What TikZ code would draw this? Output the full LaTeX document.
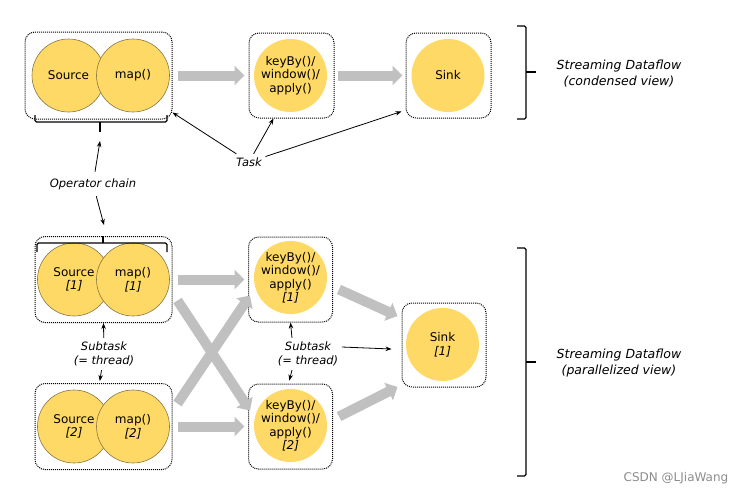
\documentclass[tikz,border=0pt]{standalone}
\usepackage{fontspec}
\setmainfont{DejaVu Sans}
\usetikzlibrary{arrows.meta}

\definecolor{opyellow}{HTML}{FFD966}
\definecolor{opedge}{HTML}{857545}
\definecolor{flowgray}{HTML}{C0C0C0}

\tikzset{
  taskbox/.style={rectangle,rounded corners=10pt,draw=black,line width=1pt,dash pattern=on 1pt off 1pt},
  op/.style={circle,fill=opyellow,minimum size=73pt,inner sep=-3pt,align=center},
  chained/.style={op,draw=opedge,line width=0.6pt},
  flow/.style={draw=flowgray,line width=10pt,-{Triangle[length=10pt,width=19pt]}},
  note/.style={font=\fontsize{11.5}{14.5}\selectfont\itshape,align=center},
  viewnote/.style={note,font=\fontsize{12.5}{16}\selectfont\itshape},
  brace/.style={line width=1.2pt,rounded corners=1.5pt}
}

\begin{document}
\begin{tikzpicture}[x=1pt,y=-1pt,thick,>={Stealth[length=6pt,width=4.5pt]},font=\fontsize{12}{13.5}\selectfont]
        \useasboundingbox (0,0) rectangle (746,496);
        % condensed view
        \node at (98.5,75.5)[taskbox,minimum width=147pt,minimum height=87pt] (chain) {};
        \node at (291.5,75.5)[taskbox,minimum width=85pt,minimum height=85pt] (winbox) {};
        \node at (448.5,75.5)[taskbox,minimum width=85pt,minimum height=85pt] (sinkbox) {};
        \node at (68.5,75.5)[chained] (src) {Source};
        \node at (133,75.5)[chained] (map) {map()};
        \node at (290.5,75.5)[op] (win) {keyBy()/\\window()/\\apply()};
        \node at (448,75.5)[op] (sink) {Sink};
        \draw [flow] ([xshift=5]chain.east) -- ([xshift=-4]winbox.west);
        \draw [flow] ([xshift=3]winbox.east) -- ([xshift=-3]sinkbox.west);
        % parallelized view
        \node at (103.5,279.5)[taskbox,minimum width=137pt,minimum height=86pt] (chain1) {};
        \node at (103.5,426.5)[taskbox,minimum width=137pt,minimum height=86pt] (chain2) {};
        \node at (290.5,279.5)[taskbox,minimum width=84pt,minimum height=85pt] (winbox1) {};
        \node at (290.5,426.5)[taskbox,minimum width=84pt,minimum height=85pt] (winbox2) {};
        \node at (444,345)[taskbox,minimum width=84pt,minimum height=84pt] (sinkbox1) {};
        \node at (74,279.5)[chained] (src1) {Source\\\textit{[1]}};
        \node at (133,279.5)[chained] (map1) {map()\\\textit{[1]}};
        \node at (74,426.5)[chained] (src2) {Source\\\textit{[2]}};
        \node at (133,426.5)[chained] (map2) {map()\\\textit{[2]}};
        \node at (290.5,277.5)[op] (win1) {keyBy()/\\window()/\\apply()\\\textit{[1]}};
        \node at (290.5,425.5)[op] (win2) {keyBy()/\\window()/\\apply()\\\textit{[2]}};
        \node at (442.5,344.5)[op] (sink1) {Sink\\\textit{[1]}};
        \draw [flow] ([xshift=5]chain1.east) -- ([xshift=-3.5]winbox1.west);
        \draw [flow] ([xshift=5]chain2.east) -- ([xshift=-3.5]winbox2.west);
        \draw [flow] ([xshift=5,yshift=-21]chain1.east) -- ([xshift=2,yshift=-27]winbox2.west |- winbox2.north);
        \draw [flow] ([xshift=5,yshift=23]chain2.east) -- ([xshift=2,yshift=27]winbox1.west |- winbox1.south);
        \draw [flow] ([xshift=6,yshift=-10]winbox1.east) -- ([xshift=-4,yshift=29]sinkbox1.west);
        \draw [flow] ([xshift=6,yshift=10]winbox2.east) -- ([xshift=-4,yshift=-42]sinkbox1.west);
        % braces
        \draw [brace] (35,115) -- (35,122) -- (167,122) -- (167,115);
        \draw [brace] (100,122) -- (100,132);
        \draw [brace] (37,252) -- (37,243) -- (167,243) -- (167,252);
        \draw [brace] (103,243) -- (103,236);
        \draw [brace] (517,26) -- (526,26) -- (526,119) -- (517,119);
        \draw [brace] (526,72) -- (536,72);
        \draw [brace] (517,248) -- (526,248) -- (526,476) -- (517,476);
        \draw [brace] (526,362) -- (536,362);
        % labels
        \node at (619,74)[viewnote] (condensed) {Streaming Dataflow\\(condensed view)};
        \node at (619,363)[viewnote] (parallel) {Streaming Dataflow\\(parallelized view)};
        \node at (249,162)[note] (task) {Task};
        \node at (93,184)[note] (opchain) {Operator chain};
        \node at (104,354)[note] (subtask1) {Subtask\\(= thread)};
        \node at (308,354)[note] (subtask2) {Subtask\\(= thread)};
        \coordinate (chainup) at (100,141);
        \coordinate (chaindown) at (104,225);
        \draw [->] (task) to ([yshift=7]chain.south east);
        \draw [->] (task) to ([xshift=-18]winbox.south);
        \draw [->] (task) to ([xshift=-4,yshift=7]sinkbox.south west);
        \draw [->,shorten <=3pt] (opchain) to (chainup);
        \draw [->,shorten <=3pt] (opchain) to (chaindown);
        \draw [->] (subtask1) to (chain1.south);
        \draw [->,shorten >=2pt] (subtask1) to ([xshift=-4]chain2.north);
        \draw [->] ([xshift=-16]subtask2.north) to (winbox1.south);
        \draw [->,shorten >=3pt] ([xshift=-16]subtask2.south) to ([xshift=-2]winbox2.north);
        \draw [->] ([yshift=7]subtask2.east) to ([xshift=-10,yshift=-4]sinkbox1.west);
        \node at (676,478)[text=black!45,font=\fontsize{12}{14}\selectfont] (mark) {CSDN @LJiaWang};
\end{tikzpicture}
\end{document}
